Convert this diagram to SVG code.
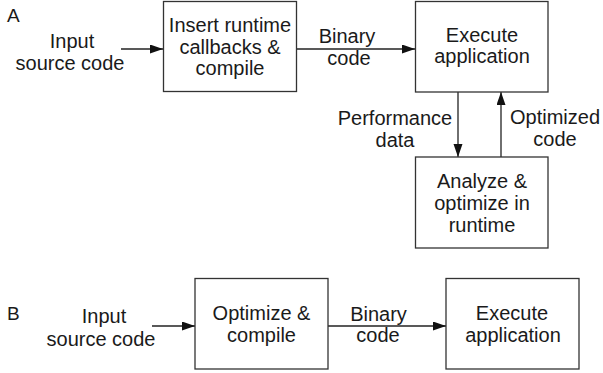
<svg xmlns="http://www.w3.org/2000/svg" width="603" height="373" viewBox="0 0 603 373">
<style>
text{font-family:"Liberation Sans",Arial,sans-serif;font-size:20px;fill:#1a1a1a;text-anchor:middle}
.lbl{text-anchor:start;font-size:19px}
.box{fill:#fff;stroke:#333;stroke-width:1.3}
.con{stroke:#222;stroke-width:1.3;fill:none;marker-end:url(#ah)}
</style>
<defs>
<marker id="ah" markerWidth="14" markerHeight="10" refX="13" refY="4.5" orient="auto" markerUnits="userSpaceOnUse">
<path d="M0,0 L13,4.5 L0,9 Z" fill="#111"/>
</marker>
</defs>
<rect width="603" height="373" fill="#fff"/>
<text class="lbl" x="7" y="22">A</text>
<text class="lbl" x="7" y="320">B</text>
<g id="connectors">
<line class="con" x1="121" y1="49" x2="163" y2="49"/>
<line class="con" x1="297" y1="49" x2="415" y2="49"/>
<line class="con" x1="458" y1="92" x2="458" y2="157"/>
<line class="con" x1="501" y1="157" x2="501" y2="92"/>
<line class="con" x1="152" y1="326" x2="195" y2="326"/>
<line class="con" x1="328" y1="326" x2="446" y2="326"/>
</g>
<g id="a-input"><text x="72" y="48">Input</text><text x="70" y="70">source code</text></g>
<g id="a-compile"><rect class="box" x="163.5" y="1.5" width="133" height="90"/><text x="230" y="32">Insert runtime</text><text x="230" y="54">callbacks &amp;</text><text x="230" y="75">compile</text></g>
<g id="a-binary"><text x="347" y="43">Binary</text><text x="349" y="65">code</text></g>
<g id="a-execute"><rect class="box" x="415.5" y="1.5" width="132.5" height="90.5"/><text x="482" y="42">Execute</text><text x="482" y="63">application</text></g>
<g id="a-perf"><text x="395" y="125">Performance</text><text x="395" y="147">data</text></g>
<g id="a-optcode"><text x="555" y="124">Optimized</text><text x="555" y="146">code</text></g>
<g id="a-analyze"><rect class="box" x="415.5" y="157" width="132.5" height="91"/><text x="482" y="188">Analyze &amp;</text><text x="482" y="210">optimize in</text><text x="482" y="232">runtime</text></g>
<g id="b-input"><text x="104" y="323">Input</text><text x="101" y="346">source code</text></g>
<g id="b-compile"><rect class="box" x="195" y="278.5" width="133" height="90.5"/><text x="261.5" y="320">Optimize &amp;</text><text x="261.5" y="342">compile</text></g>
<g id="b-binary"><text x="378.5" y="321">Binary</text><text x="378" y="342">code</text></g>
<g id="b-execute"><rect class="box" x="446" y="278.5" width="133" height="90.5"/><text x="512" y="320">Execute</text><text x="513" y="342">application</text></g>
</svg>
